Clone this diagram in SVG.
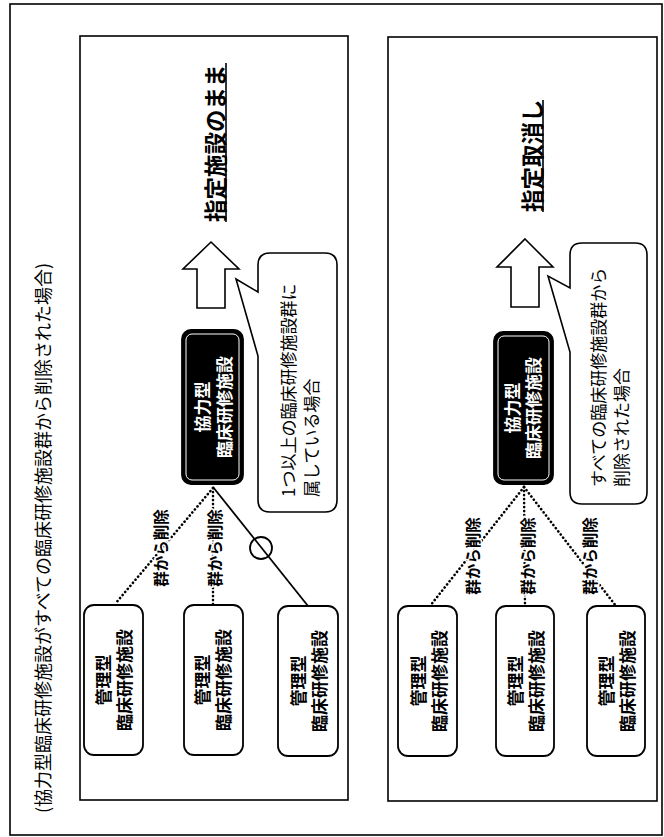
<svg xmlns="http://www.w3.org/2000/svg" width="664" height="837" viewBox="0 0 664 837">
<style>
text{font-family:"Noto Sans CJK JP","Noto Sans",sans-serif;dominant-baseline:central;fill:#000}
.frame{fill:none;stroke:#000;stroke-width:1.6}
.node rect{fill:#fff;stroke:#000;stroke-width:1.8}
.node text{font-size:17px;font-weight:bold;text-anchor:middle}
.dark rect.o{fill:#000;stroke:#000;stroke-width:1.8}
.dark rect.i{fill:none;stroke:#fff;stroke-width:1}
.dark text{font-size:17px;font-weight:bold;text-anchor:middle;fill:#fff}
.title{font-size:18px;text-anchor:start}
.head{font-size:22.5px;font-weight:bold;text-anchor:start}
.ul{stroke:#000;stroke-width:1.6}
.arrow{fill:#fff;stroke:#000;stroke-width:1.6;stroke-linejoin:miter}
.callout path{fill:#fff;stroke:#000;stroke-width:1.6}
.callout text{font-size:17px;text-anchor:start}
.dot{fill:none;stroke:#000;stroke-width:2.6;stroke-dasharray:0.1 3.9;stroke-linecap:round}
.solid{fill:none;stroke:#000;stroke-width:1.8}
.lbl{font-size:15.5px;font-weight:bold;text-anchor:middle;stroke:#fff;stroke-width:3;paint-order:stroke}
</style>
<rect x="10" y="4" width="652" height="831" class="frame"/>
<text class="title" transform="translate(42,813) rotate(-90)">(協力型臨床研修施設がすべての臨床研修施設群から削除された場合)</text>

<g id="panel1">
<rect x="80" y="36" width="268" height="764" class="frame"/>
</g>
<g id="panel2">
<rect x="388" y="37" width="269" height="764" class="frame"/>
</g>

<g id="connectors">
<line class="dot" x1="213" y1="488" x2="115" y2="604"/>
<line class="dot" x1="213" y1="488" x2="213" y2="605"/>
<line class="solid" x1="213" y1="487" x2="308" y2="606"/>
<circle cx="261" cy="548" r="11" fill="none" stroke="#000" stroke-width="1.8"/>
<line class="dot" x1="524" y1="487" x2="430" y2="606"/>
<line class="dot" x1="524" y1="487" x2="525" y2="606"/>
<line class="dot" x1="524" y1="487" x2="616" y2="606"/>
<text class="lbl" transform="translate(160,548) rotate(-90)">群から削除</text>
<text class="lbl" transform="translate(214,548) rotate(-90)">群から削除</text>
<text class="lbl" transform="translate(472,556) rotate(-90)">群から削除</text>
<text class="lbl" transform="translate(527,556) rotate(-90)">群から削除</text>
<text class="lbl" transform="translate(589,556) rotate(-90)">群から削除</text>
</g>

<g id="result1">
<text class="head" transform="translate(214,222) rotate(-90)">指定施設のまま</text>
<line class="ul" x1="226" y1="222" x2="226" y2="63"/>
</g>
<g id="result2">
<text class="head" transform="translate(531,212) rotate(-90)">指定取消し</text>
<line class="ul" x1="543" y1="212" x2="543" y2="100"/>
</g>

<g id="arrow1"><polygon class="arrow" points="211,242 239,269 225,269 225,308 197,308 197,269 183,269"/></g>
<g id="arrow2"><polygon class="arrow" points="525,239 553,267 539,267 539,307 511,307 511,267 497,267"/></g>

<g id="callout1" class="callout">
<path d="M270 253 H325 Q337 253 337 265 V500 Q337 512 325 512 H270 Q258 512 258 500 V356 L236 279 L258 292 V265 Q258 253 270 253 Z"/>
<text transform="translate(287,497) rotate(-90)">1つ以上の臨床研修施設群に</text>
<text transform="translate(310,497) rotate(-90)">属している場合</text>
</g>
<g id="callout2" class="callout">
<path d="M582 243 H635 Q647 243 647 255 V492 Q647 504 635 504 H582 Q570 504 570 492 V352 L548 276 L570 288 V255 Q570 243 582 243 Z"/>
<text transform="translate(597,487) rotate(-90)">すべての臨床研修施設群から</text>
<text transform="translate(620,487) rotate(-90)">削除された場合</text>
</g>

<g id="coop1" class="dark">
<rect class="o" x="182" y="330" width="61" height="154" rx="9"/>
<rect class="i" x="186" y="334" width="53" height="146" rx="6"/>
<text transform="translate(201,407) rotate(-90)">協力型</text>
<text transform="translate(223,407) rotate(-90)">臨床研修施設</text>
</g>
<g id="coop2" class="dark">
<rect class="o" x="494" y="332" width="59" height="152" rx="9"/>
<rect class="i" x="498" y="336" width="51" height="144" rx="6"/>
<text transform="translate(511,408) rotate(-90)">協力型</text>
<text transform="translate(532,408) rotate(-90)">臨床研修施設</text>
</g>

<g id="mgmt1a" class="node">
<rect x="84" y="605" width="59" height="150" rx="10"/>
<text transform="translate(102,680) rotate(-90)">管理型</text>
<text transform="translate(123,680) rotate(-90)">臨床研修施設</text>
</g>
<g id="mgmt1b" class="node">
<rect x="184" y="605" width="59" height="150" rx="10"/>
<text transform="translate(201,680) rotate(-90)">管理型</text>
<text transform="translate(222,680) rotate(-90)">臨床研修施設</text>
</g>
<g id="mgmt1c" class="node">
<rect x="278" y="606" width="60" height="150" rx="10"/>
<text transform="translate(297,681) rotate(-90)">管理型</text>
<text transform="translate(318,681) rotate(-90)">臨床研修施設</text>
</g>
<g id="mgmt2a" class="node">
<rect x="398" y="606" width="59" height="150" rx="10"/>
<text transform="translate(417,681) rotate(-90)">管理型</text>
<text transform="translate(438,681) rotate(-90)">臨床研修施設</text>
</g>
<g id="mgmt2b" class="node">
<rect x="496" y="606" width="58" height="150" rx="10"/>
<text transform="translate(514,681) rotate(-90)">管理型</text>
<text transform="translate(535,681) rotate(-90)">臨床研修施設</text>
</g>
<g id="mgmt2c" class="node">
<rect x="587" y="606" width="58" height="150" rx="10"/>
<text transform="translate(605,681) rotate(-90)">管理型</text>
<text transform="translate(626,681) rotate(-90)">臨床研修施設</text>
</g>
</svg>
